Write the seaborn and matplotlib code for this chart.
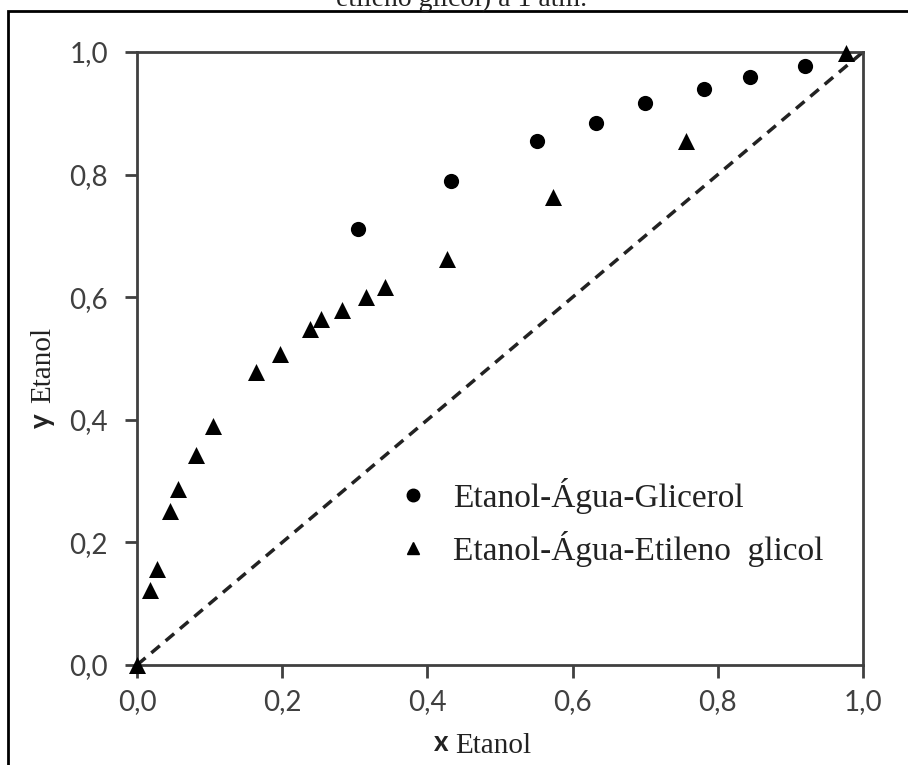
import numpy as np
import pandas as pd
import matplotlib
matplotlib.use('Agg')
import matplotlib.pyplot as plt
import seaborn as sns
from matplotlib.lines import Line2D
from matplotlib.patches import Rectangle

sns.set_theme(style='white')
plt.rcParams['font.family'] = ['Liberation Serif', 'DejaVu Serif']

# 数据 (x, y de etanol)
serie_glicerol = 'Etanol-Água-Glicerol'
serie_etileno = 'Etanol-Água-Etileno  glicol'
x_glicerol = [0.305, 0.432, 0.551, 0.632, 0.700, 0.781, 0.845, 0.920]
y_glicerol = [0.712, 0.790, 0.854, 0.884, 0.916, 0.939, 0.959, 0.977]
x_etileno = [0.0, 0.018, 0.027, 0.045, 0.057, 0.081, 0.105, 0.164, 0.197, 0.238,
             0.254, 0.282, 0.315, 0.342, 0.427, 0.573, 0.756, 0.976]
y_etileno = [0.0, 0.122, 0.156, 0.251, 0.287, 0.343, 0.390, 0.478, 0.507, 0.548,
             0.564, 0.579, 0.601, 0.616, 0.663, 0.764, 0.854, 0.998]
ticks = [0.0, 0.2, 0.4, 0.6, 0.8, 1.0]
tick_labels = ['0,0', '0,2', '0,4', '0,6', '0,8', '1,0']

df_g = pd.DataFrame({'x': x_glicerol, 'y': y_glicerol})
df_e = pd.DataFrame({'x': x_etileno, 'y': y_etileno})

W, H = 908, 765
fig = plt.figure(figsize=(W / 100, H / 100), dpi=100)
ax = fig.add_axes([137 / W, 1 - 665 / H, 726 / W, 613 / H])

# diagonal y = x
ax.plot([0, 1], [0, 1], color='#222222', lw=2.5, ls=(0, (3.2, 2.2)), zorder=1)

sns.scatterplot(data=df_g, x='x', y='y', marker='o', color='black', s=120,
                linewidth=0, ax=ax, clip_on=False, zorder=3)
sns.scatterplot(data=df_e, x='x', y='y', marker='^', color='black', s=150,
                linewidth=0, ax=ax, clip_on=False, zorder=3)

ax.set_xlim(0, 1)
ax.set_ylim(0, 1)
ax.set_xticks(ticks)
ax.set_yticks(ticks)
ax.set_xticklabels(tick_labels)
ax.set_yticklabels(tick_labels)
ax.set_xlabel('')
ax.set_ylabel('')
for sp in ax.spines.values():
    sp.set_color('#404040')
    sp.set_linewidth(2)
ax.tick_params(axis='both', direction='out', length=9, width=2, color='#404040',
               labelsize=20, labelcolor='#404040', bottom=True, left=True)
ax.tick_params(axis='x', pad=8)
ax.tick_params(axis='y', pad=12)
for lab in ax.get_xticklabels() + ax.get_yticklabels():
    lab.set_fontfamily('Lato')

# legenda
handles = [Line2D([], [], marker='o', ls='', color='black', markersize=9),
           Line2D([], [], marker='^', ls='', color='black', markersize=8)]
leg = ax.legend(handles, [serie_glicerol, serie_etileno], loc='upper left',
                bbox_to_anchor=(0.357, 0.305), frameon=False,
                prop={'family': 'Liberation Serif', 'size': 24},
                handlelength=1.0, handletextpad=0.7, labelspacing=0.5,
                borderpad=0, borderaxespad=0)
for t in leg.get_texts():
    t.set_color('#222222')

# rótulos dos eixos (x/y em negrito sans, Etanol serifado)
fig.text(441 / W, 1 - 751 / H, 'x', ha='center', va='baseline', fontsize=20,
         fontweight='bold', family='Lato', color='#222222')
fig.text(455 / W, 1 - 753 / H, 'Etanol', ha='left', va='baseline', fontsize=21,
         color='#222222')
fig.text(42 / W, 1 - 421 / H, 'y', ha='center', va='center', rotation=90,
         fontsize=20, fontweight='bold', family='Lato', color='#222222')
fig.text(43 / W, 1 - 403 / H, 'Etanol', ha='center', va='bottom', rotation=90,
         fontsize=21, color='#222222')

# título cortado e moldura
fig.text(462 / W, 1 - 6 / H, 'etileno glicol) a 1 atm.', ha='center',
         va='baseline', fontsize=20, color='#222222')
fig.add_artist(Rectangle((8 / W, -0.1), 1.2, 1.1 - 11 / H,
                         transform=fig.transFigure, fill=False, lw=2,
                         ec='black'))

fig.savefig('out.png', dpi=100)
